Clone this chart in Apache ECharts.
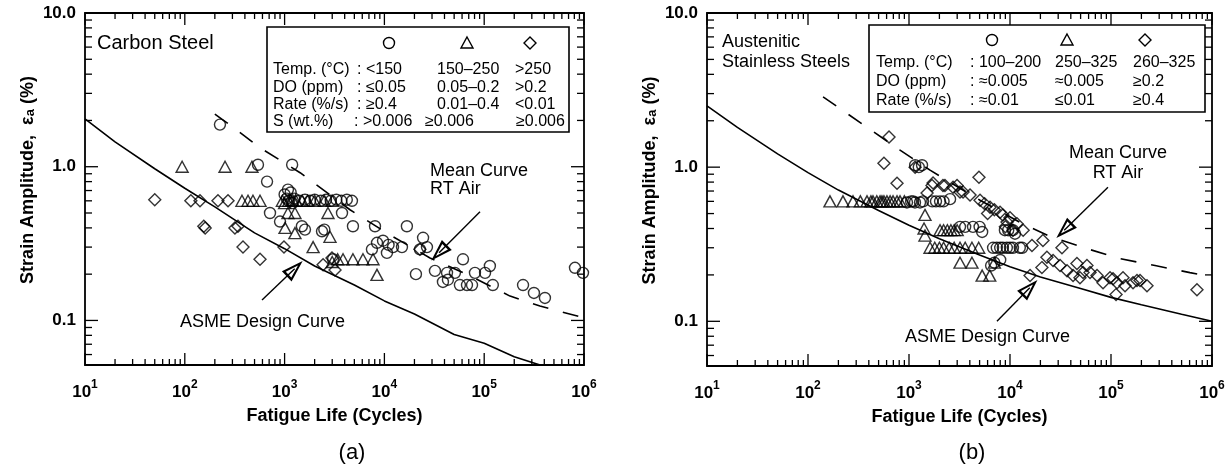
<!DOCTYPE html>
<html>
<head>
<meta charset="utf-8">
<script src="https://cdn.jsdelivr.net/npm/echarts@6/dist/echarts.min.js"></script>
<style>html,body{margin:0;padding:0;background:#fff}#c{width:1232px;height:471px}</style>
</head>
<body>
<div id="c"></div>
<script>
// ---------------- DATA ----------------
// Panel (a) Carbon Steel: [fatigue life (cycles), strain amplitude (%)]
const carbonCircles = [
  [225,1.88],[541,1.03],[1190,1.03],[667,0.80],[1080,0.71],[1000,0.66],[1150,0.68],
  [714,0.50],[900,0.44],[1600,0.39],[2370,0.38],[2500,0.39],[1490,0.41],
  [1050,0.62],[1100,0.60],[1200,0.58],[1250,0.62],[1400,0.60],[1600,0.61],[1800,0.60],[2000,0.61],
  [2300,0.60],[2600,0.61],[2900,0.60],[3300,0.61],[3700,0.60],[4200,0.61],[4730,0.60],
  [3760,0.50],[4840,0.41],[8050,0.41],[16800,0.41],
  [8430,0.32],[9680,0.33],[11000,0.31],[12200,0.30],[15000,0.30],[10600,0.275],[7500,0.29],
  [24400,0.345],[26700,0.30],[22700,0.29],[3060,0.25],[20700,0.20],[32100,0.21],[61300,0.25],
  [42400,0.204],[50900,0.204],[38600,0.178],[43300,0.184],[57100,0.17],[67200,0.17],[75500,0.17],
  [80800,0.204],[102000,0.204],[114000,0.226],[122000,0.17],
  [245000,0.17],[315000,0.151],[406000,0.14],[812000,0.22],[977000,0.204]
];
const carbonTriangles = [
  [94,1.0],[253,1.0],[471,1.0],
  [374,0.6],[430,0.6],[482,0.6],[567,0.6],
  [950,0.6],[1000,0.58],[1100,0.6],[1200,0.61],[1300,0.6],[1500,0.6],[1700,0.6],[2000,0.6],[2500,0.6],[3000,0.6],
  [1080,0.5],[1270,0.5],[2720,0.5],[1010,0.40],[1270,0.37],[1930,0.30],[2850,0.35],
  [3000,0.24],[3400,0.25],[3850,0.25],[4840,0.25],[6100,0.25],[7690,0.25],[8430,0.198]
];
const carbonDiamonds = [
  [50,0.61],[115,0.6],[142,0.6],[215,0.6],[271,0.6],
  [155,0.41],[160,0.40],[318,0.40],[341,0.41],
  [383,0.30],[567,0.25],[986,0.30],[2430,0.23],[2985,0.255],[3200,0.213],[22700,0.29]
];
const carbonASME = [
  [10,2.05],[20,1.45],[50,0.97],[100,0.724],[200,0.548],[500,0.371],[1000,0.293],[2000,0.226],
  [5000,0.170],[10000,0.134],[20000,0.110],[50000,0.081],[100000,0.071],[200000,0.058],[500000,0.048],[1000000,0.044]
];
const carbonMean = [
  [200,2.2],[265,1.93],[567,1.33],[1430,0.914],[4520,0.525],[11380,0.36],[28650,0.255],
  [72100,0.195],[181500,0.144],[362000,0.124],[1000000,0.104]
];

// Panel (b) Austenitic Stainless Steels
const ssCircles = [
  [1150,1.03],[1346,1.03],[1250,1.0],
  [955,0.59],[1050,0.6],[1100,0.6],[1146,0.59],[1285,0.59],[1377,0.6],[1700,0.6],[1850,0.6],[2030,0.6],[2200,0.6],[2550,0.62],
  [3200,0.41],[3600,0.41],[4300,0.41],[5000,0.41],[5300,0.38],
  [6800,0.3],[7400,0.3],[8000,0.3],[8500,0.3],[9300,0.3],[10000,0.3],[10700,0.3],[12500,0.3],[13200,0.3],
  [8900,0.39],[9600,0.39],[10700,0.39],[11200,0.37],
  [6500,0.23],[7000,0.24],[8000,0.25]
];
const ssTriangles = [
  [165,0.6],[222,0.6],[279,0.6],[330,0.6],[384,0.6],[420,0.6],[440,0.6],[480,0.6],[517,0.6],[540,0.6],
  [565,0.6],[605,0.6],[650,0.6],[695,0.6],[761,0.6],[815,0.6],[900,0.6],
  [1440,0.49],[1409,0.40],[1440,0.36],
  [2030,0.39],[2200,0.39],[2400,0.39],[2600,0.39],[2800,0.39],[3000,0.39],
  [1615,0.30],[1800,0.30],[2000,0.3],[2200,0.3],[2500,0.3],[2800,0.3],[3200,0.3],[3600,0.3],[4200,0.3],[4900,0.3],
  [3200,0.24],[4200,0.24],[5300,0.198],[6300,0.198],[7000,0.24]
];
const ssDiamonds = [
  [634,1.57],[565,1.06],[761,0.787],[1150,1.0],[4930,0.86],
  [1510,0.68],[1690,0.76],[1730,0.79],[2170,0.76],[2270,0.76],[2730,0.74],[2990,0.76],[3200,0.69],[3430,0.69],
  [4020,0.66],[5050,0.61],[5600,0.58],[6340,0.55],[7000,0.53],[6000,0.50],[7970,0.51],[8500,0.49],[10000,0.47],
  [11730,0.43],[9340,0.44],[9000,0.41],[10700,0.39],[13500,0.39],
  [21200,0.334],[32700,0.30],[16500,0.31],[23200,0.26],[26700,0.248],[20700,0.223],[15800,0.198],[31300,0.23],
  [36700,0.213],[46000,0.237],[57800,0.23],[42100,0.198],[49300,0.192],[52900,0.207],[62000,0.207],[72700,0.198],
  [83400,0.178],[97800,0.192],[104700,0.189],[114700,0.178],[131500,0.192],[137700,0.17],[165200,0.178],
  [180900,0.184],[193800,0.184],[227200,0.17],[112200,0.149],[710000,0.16]
];
const ssASME = [
  [10,2.50],[20,1.81],[50,1.22],[100,0.922],[200,0.710],[500,0.523],[1000,0.420],[2000,0.343],[5000,0.269],
  [10000,0.226],[20000,0.194],[50000,0.163],[100000,0.143],[200000,0.128],[500000,0.111],[1000000,0.100]
];
const ssMean = [
  [141,2.86],[367,1.85],[815,1.29],[1615,0.956],[5050,0.61],[12570,0.438],[24900,0.355],
  [61960,0.292],[122700,0.255],[272700,0.23],[605000,0.207],[1000000,0.195]
];

// Annotation arrows: [start, arrow-head position]
const carbonAsmeArrow = [[594,0.136],[1262,0.217]];
const carbonMeanArrow = [[90800,0.509],[35300,0.2756]];
const ssAsmeArrow = [[7430,0.1],[15700,0.165]];
const ssMeanArrow = [[93300,0.741],[34400,0.389]];

// Tick labels
const yTickLabels = {'-1':'0.1','0':'1.0','1':'10.0'};
const xRange = [10, 1e6];
const yRange = [0.0513, 10];

// ---------------- CHART ----------------
const FONT = '"Liberation Sans", Arial, Helvetica, sans-serif';
const chart = echarts.init(document.getElementById('c'), null, {renderer:'canvas'});

const xTicks = [];
for (let k = 1; k <= 6; k++) for (let m = 1; m <= 9; m++) {
  const v = +(m * Math.pow(10, k)).toPrecision(6);
  if (v <= xRange[1]) xTicks.push([v, 1, m === 1 ? 12 : 6]);
}
const yTicks = [];
for (let k = -2; k <= 1; k++) for (let m = 1; m <= 9; m++) {
  const v = +(m * Math.pow(10, k)).toPrecision(6);
  if (v >= yRange[0] && v <= yRange[1] + 1e-9) yTicks.push([100, v, m === 1 ? 13 : 7]);
}

function isPow(v){ const l = Math.log10(v); return Math.abs(l - Math.round(l)) < 1e-6; }

function makeX(gi){
  return {
    gridIndex: gi, type:'log', logBase:10, min:xRange[0], max:xRange[1],
    axisLine:{show:false}, axisTick:{show:false}, splitLine:{show:false}, minorTick:{show:false},
    axisLabel:{
      margin:14, color:'#000',
      formatter: v => isPow(v) ? '{b|10}{s|' + Math.round(Math.log10(v)) + '}' : '',
      rich:{
        b:{fontSize:17, fontFamily:FONT, fontWeight:'bold', color:'#000', lineHeight:22, verticalAlign:'bottom'},
        s:{fontSize:12, fontFamily:FONT, fontWeight:'bold', color:'#000', lineHeight:12, verticalAlign:'top'}
      }
    },
    name:'Fatigue Life (Cycles)', nameLocation:'middle', nameGap:42,
    nameTextStyle:{fontSize:18, fontFamily:FONT, fontWeight:'bold', color:'#000'}
  };
}
function makeY(gi){
  return {
    gridIndex: gi, type:'log', logBase:10, min:yRange[0], max:yRange[1],
    axisLine:{show:false}, axisTick:{show:false}, splitLine:{show:false}, minorTick:{show:false},
    axisLabel:{
      margin:9, color:'#000', fontSize:17, fontFamily:FONT, fontWeight:'bold',
      formatter: v => isPow(v) ? (yTickLabels[String(Math.round(Math.log10(v)))] || '') : ''
    },
    name:'Strain Amplitude,  \u03b5{sub|a} (%)', nameLocation:'middle', nameGap:48,
    nameTextStyle:{fontSize:18, fontFamily:FONT, fontWeight:'bold', color:'#000', padding:[0,0,0,18],
      rich:{sub:{fontSize:13, fontFamily:FONT, fontWeight:'bold', color:'#000', verticalAlign:'bottom', lineHeight:14}}}
  };
}

const ARROW = 'path://M0,0 L7,22 L-7,22 Z M0,6.5 L-4,19.5 L4,19.5 Z';
function arrowMark(list){
  return {
    silent:true, symbol:['none', ARROW], symbolSize:[14,22], precision:6,
    lineStyle:{color:'#000', width:1.4, type:'solid'}, label:{show:false},
    emphasis:{disabled:true},
    data: list.map(a => [{coord:a[0]},{coord:a[1]}])
  };
}

const markerStyle = {color:'rgba(0,0,0,0)', borderColor:'#000', borderWidth:1.4};
function scatter(gi, data, symbol, size){
  return {type:'scatter', xAxisIndex:gi, yAxisIndex:gi, data, symbol, symbolSize:size,
    itemStyle:markerStyle, silent:true, z:3};
}
function line(gi, data, dashed, marks){
  const s = {type:'line', xAxisIndex:gi, yAxisIndex:gi, data, showSymbol:false, symbol:'none', silent:true,
    lineStyle:{color:'#000', width:1.6, type: dashed ? [16,15] : 'solid'}, z:2, clip:true};
  if (marks) s.markLine = arrowMark(marks);
  return s;
}
function tickSeries(gi){
  return [
    {type:'custom', xAxisIndex:gi, yAxisIndex:gi, silent:true, clip:false, z:5, data:xTicks,
     encode:{x:0, y:1},
     renderItem:(params, api) => {
       const cs = params.coordSys; const px = api.coord([api.value(0), 1])[0]; const len = api.value(2);
       const st = {stroke:'#000', lineWidth:1.3};
       return {type:'group', children:[
         {type:'line', shape:{x1:px, y1:cs.y+cs.height, x2:px, y2:cs.y+cs.height-len}, style:st},
         {type:'line', shape:{x1:px, y1:cs.y, x2:px, y2:cs.y+len}, style:st}
       ]};
     }},
    {type:'custom', xAxisIndex:gi, yAxisIndex:gi, silent:true, clip:false, z:5, data:yTicks,
     encode:{x:0, y:1},
     renderItem:(params, api) => {
       const cs = params.coordSys; const py = api.coord([100, api.value(1)])[1]; const len = api.value(2);
       const st = {stroke:'#000', lineWidth:1.3};
       return {type:'group', children:[
         {type:'line', shape:{x1:cs.x, y1:py, x2:cs.x+len, y2:py}, style:st},
         {type:'line', shape:{x1:cs.x+cs.width, y1:py, x2:cs.x+cs.width-len, y2:py}, style:st}
       ]};
     }}
  ];
}

function T(x, y, text, size, extra){
  return Object.assign({type:'text', x, y, z:10, silent:true,
    style:Object.assign({text, fontSize:size, fontFamily:FONT, fill:'#000', align:'left', verticalAlign:'middle'}, extra && extra.style || {})},
    extra && extra.el || {});
}
function circ(cx, cy){ return {type:'circle', z:10, silent:true, shape:{cx, cy, r:5.5}, style:{fill:'none', stroke:'#000', lineWidth:1.4}}; }
function tri(cx, cy){ return {type:'polygon', z:10, silent:true, shape:{points:[[cx,cy-6],[cx+6,cy+5],[cx-6,cy+5]]}, style:{fill:'none', stroke:'#000', lineWidth:1.4}}; }
function dia(cx, cy){ return {type:'polygon', z:10, silent:true, shape:{points:[[cx,cy-6],[cx+6,cy],[cx,cy+6],[cx-6,cy]]}, style:{fill:'none', stroke:'#000', lineWidth:1.4}}; }
function box(x, y, w, h){ return {type:'rect', z:9, silent:true, shape:{x, y, width:w, height:h}, style:{fill:'#fff', stroke:'#000', lineWidth:1.6}}; }

const LF = 16;
const graphic = [
  // panel (a)
  T(97, 43, 'Carbon Steel', 20),
  box(267, 27, 302, 105),
  circ(389, 43), tri(467, 43), dia(530, 43),
  T(273, 70, 'Temp. (\u00b0C)', LF), T(357, 70, ': <150', LF), T(437, 70, '150\u2013250', LF), T(515, 70, '>250', LF),
  T(273, 88, 'DO (ppm)', LF), T(357, 88, ': \u22640.05', LF), T(437, 88, '0.05\u20130.2', LF), T(515, 88, '>0.2', LF),
  T(273, 105, 'Rate (%/s)', LF), T(357, 105, ': \u22650.4', LF), T(437, 105, '0.01\u20130.4', LF), T(515, 105, '<0.01', LF),
  T(273, 122, 'S (wt.%)', LF), T(354, 122, ': >0.006', LF), T(425, 122, '\u22650.006', LF), T(516, 122, '\u22650.006', LF),
  T(430, 171, 'Mean Curve', 18), T(430, 189, 'RT Air', 18),
  T(180, 322, 'ASME Design Curve', 18),
  T(352, 453, '(a)', 22, {style:{align:'center'}}),
  // panel (b)
  T(722, 42, 'Austenitic', 18), T(722, 62, 'Stainless Steels', 18),
  box(869, 25, 336, 87),
  circ(992, 40), tri(1067, 40), dia(1145, 40),
  T(876, 63, 'Temp. (\u00b0C)', LF), T(970, 63, ': 100\u2013200', LF), T(1055, 63, '250\u2013325', LF), T(1133, 63, '260\u2013325', LF),
  T(876, 82, 'DO (ppm)', LF), T(970, 82, ': \u22480.005', LF), T(1055, 82, '\u22480.005', LF), T(1133, 82, '\u22650.2', LF),
  T(876, 101, 'Rate (%/s)', LF), T(970, 101, ': \u22480.01', LF), T(1055, 101, '\u22640.01', LF), T(1133, 101, '\u22650.4', LF),
  T(1118, 153, 'Mean Curve', 18, {style:{align:'center'}}), T(1118, 173, 'RT Air', 18, {style:{align:'center'}}),
  T(905, 337, 'ASME Design Curve', 18),
  T(972, 453, '(b)', 22, {style:{align:'center'}})
];

const option = {
  animation:false,
  backgroundColor:'#fff',
  grid:[
    {left:85, top:13, width:499, height:352, show:true, borderColor:'#000', borderWidth:1.8, backgroundColor:'rgba(0,0,0,0)'},
    {left:707, top:13, width:505, height:353, show:true, borderColor:'#000', borderWidth:1.8, backgroundColor:'rgba(0,0,0,0)'}
  ],
  xAxis:[makeX(0), makeX(1)],
  yAxis:[makeY(0), makeY(1)],
  series:[
    line(0, carbonASME, false, [carbonAsmeArrow, carbonMeanArrow]),
    line(0, carbonMean, true),
    scatter(0, carbonCircles, 'circle', 11),
    scatter(0, carbonTriangles, 'triangle', [12,11]),
    scatter(0, carbonDiamonds, 'diamond', [12,12]),
    ...tickSeries(0),
    line(1, ssASME, false, [ssAsmeArrow, ssMeanArrow]),
    line(1, ssMean, true),
    scatter(1, ssCircles, 'circle', 11),
    scatter(1, ssTriangles, 'triangle', [12,11]),
    scatter(1, ssDiamonds, 'diamond', [12,12]),
    ...tickSeries(1)
  ],
  graphic
};
chart.setOption(option);
</script>
</body>
</html>
